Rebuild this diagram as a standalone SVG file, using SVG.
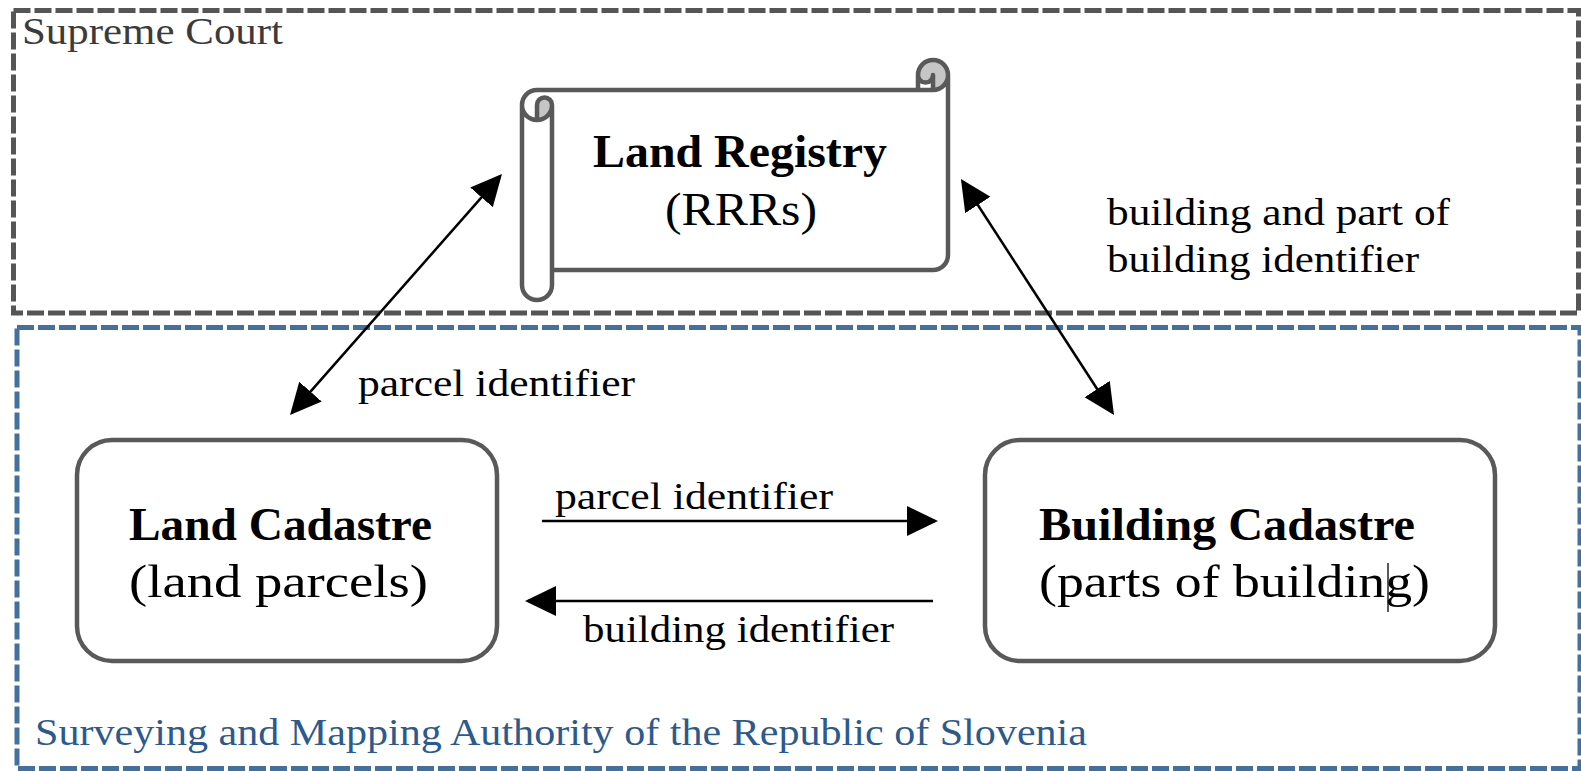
<svg xmlns="http://www.w3.org/2000/svg" width="1581" height="771" viewBox="0 0 1581 771">
  <style>
    .t { font-family: "Liberation Serif", "Times New Roman", serif; fill: #000; }
    .title { font-size: 46px; font-weight: bold; }
    .sub { font-size: 46px; }
    .lbl { font-size: 38px; }
    .zone { fill: none; stroke-width: 5; stroke-dasharray: 17 4; }
    .box { fill: #fff; stroke: #595959; stroke-width: 4.5; }
    .edge { fill: none; stroke: #000; stroke-width: 2.5; }
  </style>
  <defs>
    <marker id="arrow" markerUnits="userSpaceOnUse" markerWidth="32" markerHeight="32" viewBox="0 0 32 32" refX="28" refY="15" orient="auto-start-reverse">
      <path d="M0,0 L31,15 L0,30 Z" fill="#000"/>
    </marker>
  </defs>

  <rect width="1581" height="771" fill="#fff"/>

  <!-- organisational zones -->
  <g id="zone-supreme-court">
    <rect class="zone" x="13.5" y="10.5" width="1565" height="302.5" stroke="#555555"/>
    <text class="t lbl" x="22" y="44" style="fill:#3b3b3b" textLength="261" lengthAdjust="spacingAndGlyphs">Supreme Court</text>
  </g>
  <g id="zone-surveying-authority">
    <rect class="zone" x="17" y="327.5" width="1563" height="441" stroke="#44709e"/>
    <text class="t lbl" x="35" y="745" style="fill:#2c5a8c" textLength="1052" lengthAdjust="spacingAndGlyphs">Surveying and Mapping Authority of the Republic of Slovenia</text>
  </g>

  <!-- Land Registry drawn as a horizontal scroll -->
  <g id="land-registry">
    <path d="M522,105 A15,15 0 0 1 537,90 L918,90 L918,75 A15,15 0 0 1 948,75 L948,255 A15,15 0 0 1 933,270 L552,270 L552,285 A15,15 0 0 1 522,285 Z" fill="#fff"/>
    <path d="M537,120 A15,15 0 0 0 552,105 A7.5,7.5 0 0 0 537,105 Z" fill="#c6c6c6"/>
    <path d="M933,90 A15,15 0 1 0 918,75 A7.5,7.5 0 0 0 933,75 Z" fill="#c6c6c6"/>
    <path d="M522,105 A15,15 0 0 1 537,90 L918,90 L918,75 A15,15 0 0 1 948,75 L948,255 A15,15 0 0 1 933,270 L552,270 L552,285 A15,15 0 0 1 522,285 Z
             M918,90 L933,90 A15,15 0 0 0 948,75
             M933,90 L933,75 A7.5,7.5 0 0 1 918,75
             M537,120 L537,105 A7.5,7.5 0 0 1 552,105 A15,15 0 0 1 522,105
             M552,105 L552,270" fill="none" stroke="#595959" stroke-width="4.5" stroke-linejoin="round"/>
    <text class="t title" x="740" y="167" text-anchor="middle" textLength="294" lengthAdjust="spacingAndGlyphs">Land Registry</text>
    <text class="t sub" x="741" y="225" text-anchor="middle" textLength="152" lengthAdjust="spacingAndGlyphs">(RRRs)</text>
  </g>

  <g id="land-cadastre">
    <rect class="box" x="77" y="440" width="420" height="221" rx="35" ry="35"/>
    <text class="t title" x="129" y="540" textLength="303" lengthAdjust="spacingAndGlyphs">Land Cadastre</text>
    <text class="t sub" x="129" y="597" textLength="299" lengthAdjust="spacingAndGlyphs">(land parcels)</text>
  </g>

  <g id="building-cadastre">
    <rect class="box" x="985" y="440" width="510" height="221" rx="35" ry="35"/>
    <text class="t title" x="1039" y="540" textLength="376" lengthAdjust="spacingAndGlyphs">Building Cadastre</text>
    <text class="t sub" x="1039" y="597" textLength="391" lengthAdjust="spacingAndGlyphs">(parts of building)</text>
    <line x1="1388" y1="563" x2="1388" y2="612" stroke="#000" stroke-width="1.3"/>
  </g>

  <!-- identifier exchanges -->
  <g id="connectors">
    <line class="edge" x1="292" y1="412.7" x2="500" y2="176.3" marker-start="url(#arrow)" marker-end="url(#arrow)"/>
    <line class="edge" x1="962.6" y1="181.5" x2="1112.4" y2="412.5" marker-start="url(#arrow)" marker-end="url(#arrow)"/>
    <line class="edge" x1="542" y1="521" x2="935" y2="521" marker-end="url(#arrow)"/>
    <line class="edge" x1="933" y1="601" x2="528" y2="601" marker-end="url(#arrow)"/>
    <text class="t lbl" x="358" y="396" textLength="277" lengthAdjust="spacingAndGlyphs">parcel identifier</text>
    <text class="t lbl" x="1107" y="225" textLength="343" lengthAdjust="spacingAndGlyphs">building and part of</text>
    <text class="t lbl" x="1107" y="272" textLength="312" lengthAdjust="spacingAndGlyphs">building identifier</text>
    <text class="t lbl" x="555" y="509" textLength="278" lengthAdjust="spacingAndGlyphs">parcel identifier</text>
    <text class="t lbl" x="583" y="642" textLength="311" lengthAdjust="spacingAndGlyphs">building identifier</text>
  </g>
</svg>
